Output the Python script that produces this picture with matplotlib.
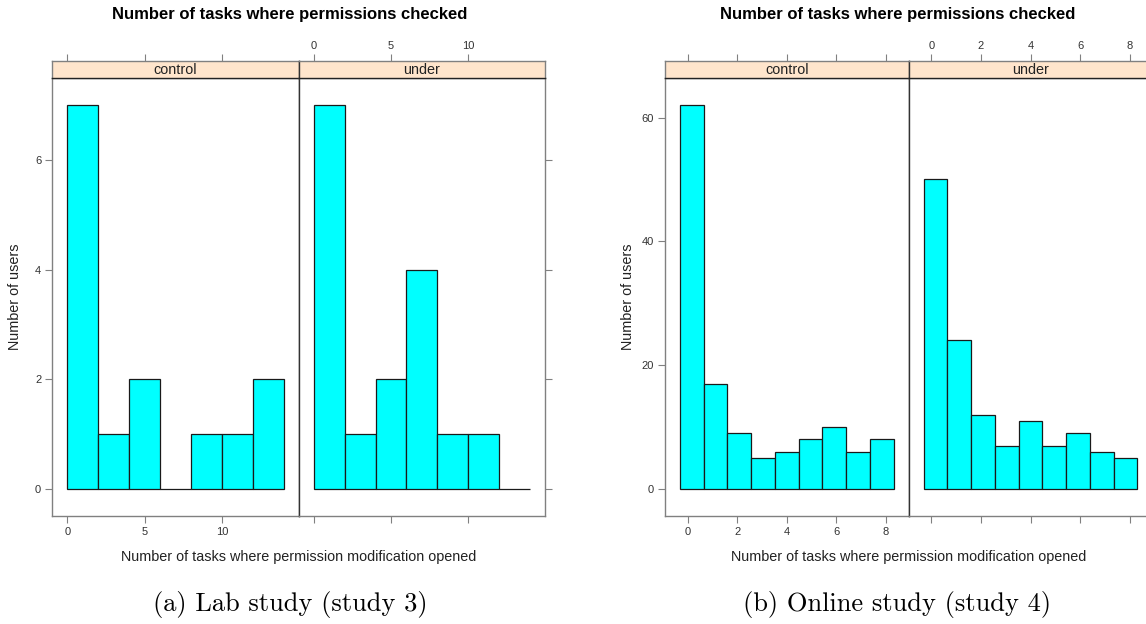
import numpy as np
import matplotlib
matplotlib.use("Agg")
import matplotlib.pyplot as plt

# ---------------- data ----------------
groups = ["control", "under"]
title_text = "Number of tasks where permissions checked"
xlabel_text = "Number of tasks where permission modification opened"
ylabel_text = "Number of users"

# (a) Lab study
lab_breaks = [0, 2, 4, 6, 8, 10, 12, 14]
lab_control = [7, 1, 2, 0, 1, 1, 2]
lab_under = [7, 1, 2, 4, 1, 1, 0]
lab_xticks = [0, 5, 10]
lab_yticks = [0, 2, 4, 6]
lab_caption = "(a) Lab study (study 3)"

# (b) Online study
online_breaks = [-0.31, 0.648, 1.606, 2.563, 3.521, 4.479, 5.437, 6.394, 7.352, 8.31]
online_control = [62, 17, 9, 5, 6, 8, 10, 6, 8]
online_under = [50, 24, 12, 7, 11, 7, 9, 6, 5]
online_xticks = [0, 2, 4, 6, 8]
online_yticks = [0, 20, 40, 60]
online_caption = "(b) Online study (study 4)"

# ---------------- style ----------------
W, H = 1146, 624
DPI = 100
SANS = "Liberation Sans"
BAR_FILL = "#00FFFF"
STRIP_BG = "#FFE5CC"
FRAME = "#808080"
DIVIDER = "#333333"
PAD = 0.07

fig = plt.figure(figsize=(W / DPI, H / DPI), dpi=DPI)
fig.patch.set_facecolor("white")


def add_ax(x0, y0, x1, y1):
    return fig.add_axes([x0 / W, 1 - y1 / H, (x1 - x0) / W, (y1 - y0) / H])


def lims(lo, hi):
    r = hi - lo
    return lo - PAD * r, hi + PAD * r


def style_spines(ax, divider_side):
    for s, sp in ax.spines.items():
        sp.set_color(DIVIDER if s == divider_side else FRAME)
        sp.set_linewidth(1.0)


def draw_chart(xL, xM, xR, breaks, counts_list, xticks, yticks, ymax, caption, cx):
    top_strip, bot_strip, bot_panel = 61, 78.3, 515.9
    xlim = lims(breaks[0], breaks[-1])
    ylim = lims(0, ymax)
    bounds = [(xL, xM), (xM, xR)]
    for i, (g, counts) in enumerate(zip(groups, counts_list)):
        x0, x1 = bounds[i]
        ax = add_ax(x0, bot_strip, x1, bot_panel)
        ax.bar(breaks[:-1], counts, width=np.diff(breaks), align="edge",
               color=BAR_FILL, edgecolor="#1a1a1a", linewidth=0.9)
        ax.set_xlim(*xlim)
        ax.set_ylim(*ylim)
        style_spines(ax, "right" if i == 0 else "left")
        ax.set_xticks(xticks)
        ax.set_yticks(yticks)
        ax.tick_params(direction="out", length=5, width=0.8, color=FRAME,
                       labelsize=8, labelcolor="#333333", pad=3)
        if i == 0:
            ax.tick_params(axis="y", left=True, right=False, labelleft=True)
            ax.tick_params(axis="x", bottom=True, labelbottom=True)
        else:
            ax.tick_params(axis="y", left=False, right=True, labelleft=False, labelright=False)
            ax.tick_params(axis="x", bottom=True, labelbottom=False)
        for lab in ax.get_xticklabels() + ax.get_yticklabels():
            lab.set_fontfamily(SANS)

        st = add_ax(x0, top_strip, x1, bot_strip)
        st.set_facecolor(STRIP_BG)
        st.set_xlim(*xlim)
        st.set_ylim(0, 1)
        st.set_yticks([])
        st.set_xticks(xticks)
        st.xaxis.set_ticks_position("top")
        st.tick_params(axis="x", direction="out", length=5, width=0.8, color=FRAME,
                       labelsize=8, labelcolor="#333333", pad=2,
                       top=True, bottom=False, labeltop=(i == 1), labelbottom=False)
        for lab in st.get_xticklabels():
            lab.set_fontfamily(SANS)
        for s, sp in st.spines.items():
            sp.set_linewidth(1.0)
            sp.set_color(FRAME)
        st.spines["bottom"].set_color("#222222")
        st.spines["right" if i == 0 else "left"].set_color(DIVIDER)
        st.text(0.5, 0.47, g, transform=st.transAxes, ha="center", va="center",
                fontsize=10.4, family=SANS, color="#222222")

    fig.text(cx / W, 1 - 14 / H, title_text, ha="center", va="center",
             fontsize=12, fontweight="bold", family=SANS, color="black")
    fig.text(xM / W, 1 - 557 / H, xlabel_text, ha="center", va="center",
             fontsize=10.4, family=SANS, color="#222222")
    fig.text((xL - 37) / W, 1 - 297 / H, ylabel_text, ha="center", va="center",
             rotation=90, fontsize=10.4, family=SANS, color="#222222")
    fig.text(cx / W, 1 - 604 / H, caption, ha="center", va="center",
             fontsize=19, family="cmr10", color="black")


draw_chart(52.3, 298.7, 545.0, lab_breaks, [lab_control, lab_under],
           lab_xticks, lab_yticks, max(lab_control + lab_under), lab_caption, 290)
draw_chart(665.0, 908.7, 1152.4, online_breaks, [online_control, online_under],
           online_xticks, online_yticks, max(online_control + online_under),
           online_caption, 897.5)

fig.savefig("out.png", dpi=DPI)
